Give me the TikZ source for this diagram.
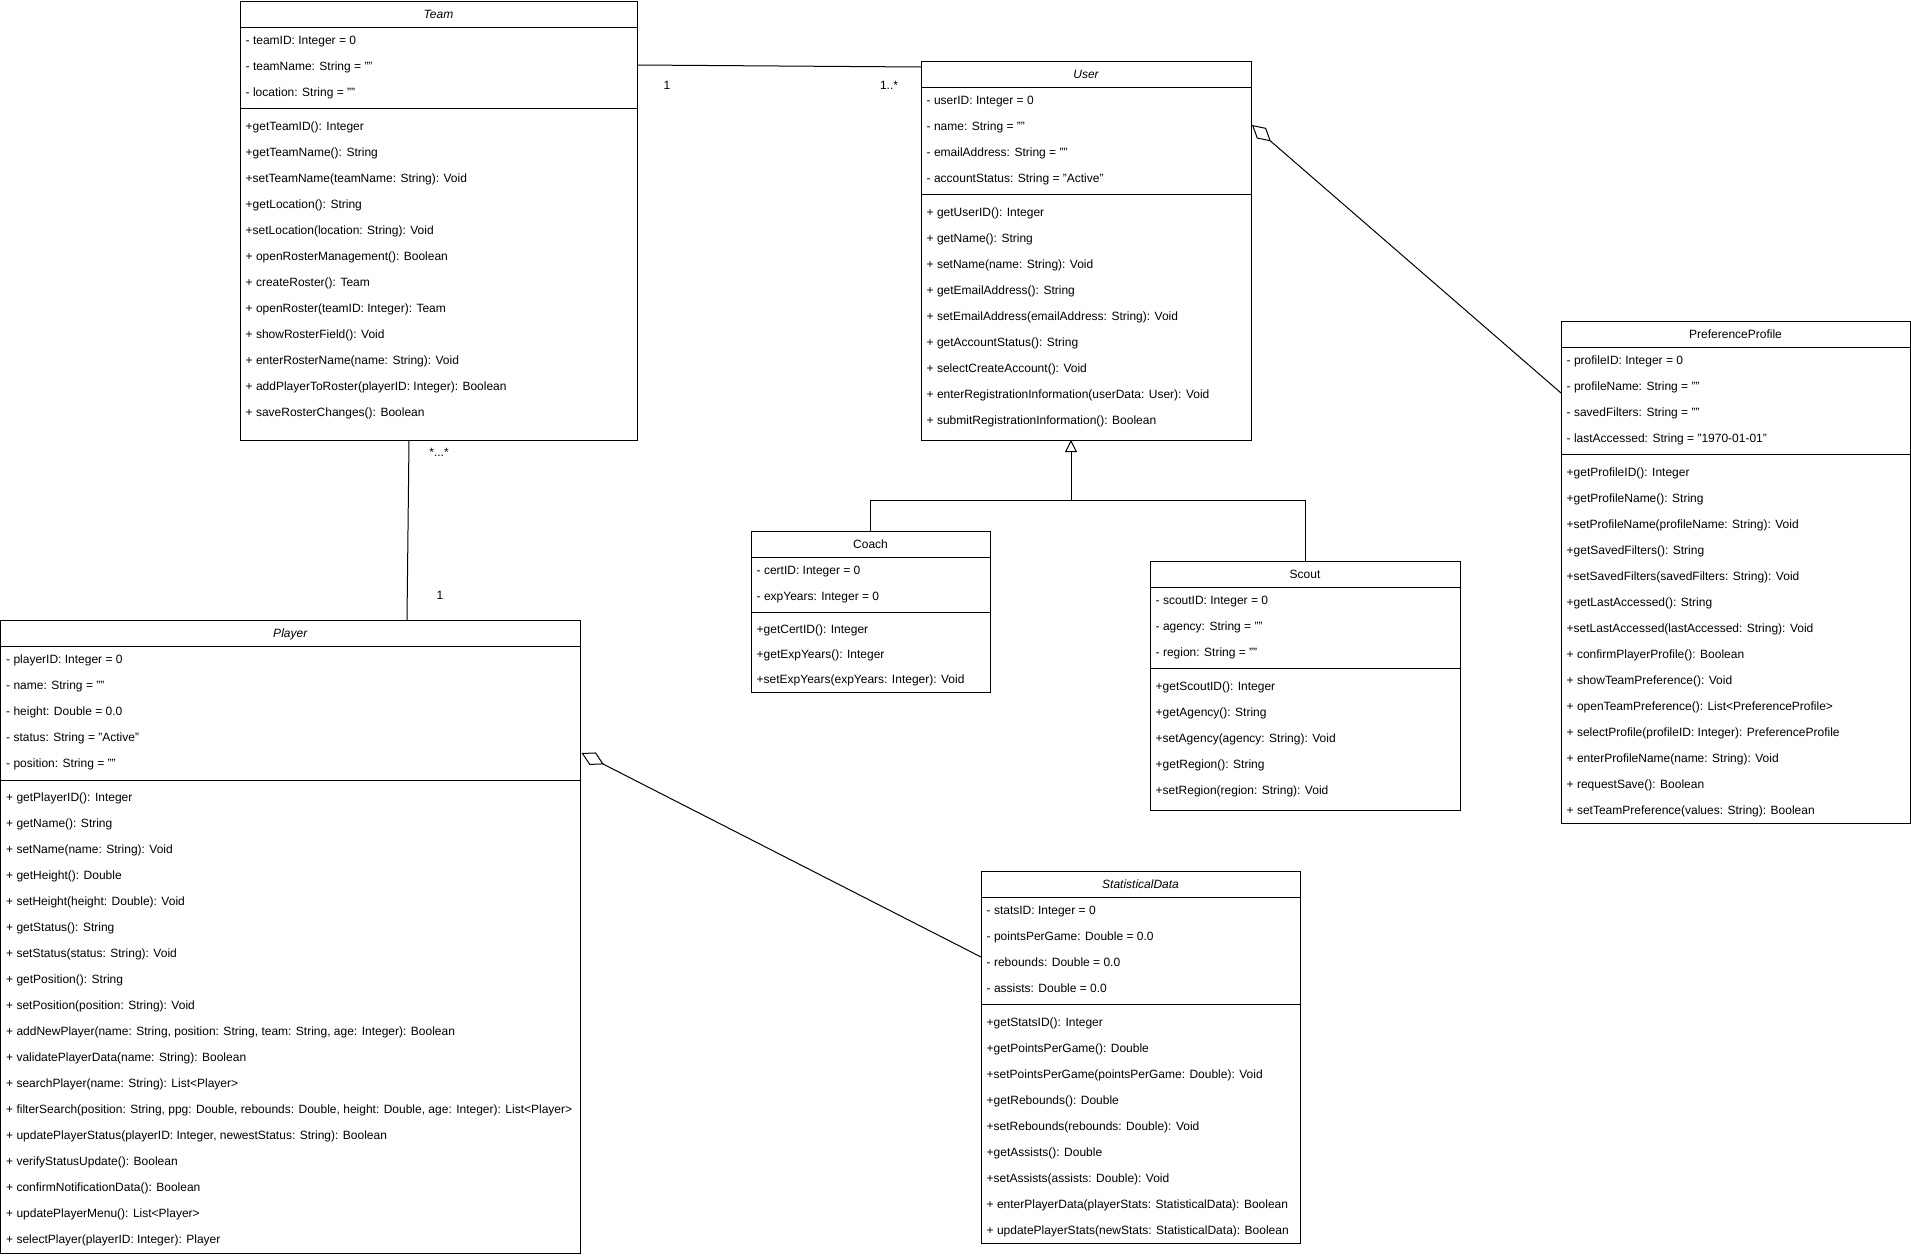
\documentclass[tikz,border=0pt]{standalone}
\usepackage{fontspec}
\setmainfont{Liberation Sans}
\usetikzlibrary{arrows.meta,calc}
\tikzset{
  umlbox/.style={draw=black, line width=1pt, fill=white, inner sep=0pt, outer sep=0pt, anchor=north west},
  rowtext/.style={anchor=west, inner sep=0pt, text height=8.6pt, text depth=0pt, font=\fontsize{12}{14}\selectfont},
  titletext/.style={inner sep=0pt, text height=8.6pt, text depth=0pt, font=\fontsize{12}{14}\selectfont},
  mult/.style={inner sep=0pt, text height=8.6pt, text depth=0pt, font=\fontsize{12}{14}\selectfont},
  conn/.style={draw=black, line width=1pt},
}
% id, left, top, right, bottom, title, separator y
\newcommand\umlclass[7]{%
  \node[umlbox, minimum width={#4-#2}, minimum height={#5-#3}] (#1) at (#2,#3) {};
  \node[titletext] (#1-title) at ({(#2+#4)/2},{#3+13}) {#6};
  \draw[conn] ([yshift=-26pt]#1.north west) -- ([yshift=-26pt]#1.north east);
  \draw[conn] (#2,#7) -- (#4,#7);
}
% id prefix, x, first y, step, list
\newcommand\umlrows[5]{%
  \foreach \t [count=\i] in {#5} {\node[rowtext] (#1\i) at (#2,{#3+#4*(\i-1)}) {\t};}
}
\begin{document}
\begin{tikzpicture}[x=1pt,y=-1pt]
\path[fill=white,use as bounding box] (0,0) rectangle (1911,1256);

% Team
\umlclass{team}{240}{1}{637}{440}{\itshape Team}{108.5}
\umlrows{team-a}{245.5}{40}{26}{- teamID: Integer = 0, - teamName: String = "", - location: String = ""}
\umlrows{team-m}{245.5}{126}{26}{+getTeamID(): Integer, +getTeamName(): String, +setTeamName(teamName: String): Void, +getLocation(): String, +setLocation(location: String): Void, + openRosterManagement(): Boolean, + createRoster(): Team, + openRoster(teamID: Integer): Team, + showRosterField(): Void, + enterRosterName(name: String): Void, + addPlayerToRoster(playerID: Integer): Boolean, + saveRosterChanges(): Boolean}

% User
\umlclass{user}{921}{61}{1251}{440}{\itshape User}{194.5}
\umlrows{user-a}{926.5}{100}{26}{- userID: Integer = 0, - name: String = "", - emailAddress: String = "", - accountStatus: String = "Active"}
\umlrows{user-m}{926.5}{212}{26}{+ getUserID(): Integer, + getName(): String, + setName(name: String): Void, + getEmailAddress(): String, + setEmailAddress(emailAddress: String): Void, + getAccountStatus(): String, + selectCreateAccount(): Void, + enterRegistrationInformation(userData: User): Void, + submitRegistrationInformation(): Boolean}

% PreferenceProfile
\umlclass{pref}{1561}{321}{1910}{823}{PreferenceProfile}{454.5}
\umlrows{pref-a}{1566.5}{360}{26}{- profileID: Integer = 0, - profileName: String = "", - savedFilters: String = "", - lastAccessed: String = "1970-01-01"}
\umlrows{pref-m}{1566.5}{472}{26}{+getProfileID(): Integer, +getProfileName(): String, +setProfileName(profileName: String): Void, +getSavedFilters(): String, +setSavedFilters(savedFilters: String): Void, +getLastAccessed(): String, +setLastAccessed(lastAccessed: String): Void, + confirmPlayerProfile(): Boolean, + showTeamPreference(): Void, + openTeamPreference(): List<PreferenceProfile>, + selectProfile(profileID: Integer): PreferenceProfile, + enterProfileName(name: String): Void, + requestSave(): Boolean, + setTeamPreference(values: String): Boolean}

% Coach
\umlclass{coach}{751}{531}{990}{692}{Coach}{612.5}
\umlrows{coach-a}{756.5}{570}{26}{- certID: Integer = 0, - expYears: Integer = 0}
\umlrows{coach-m}{756.5}{629.5}{25}{+getCertID(): Integer, +getExpYears(): Integer, +setExpYears(expYears: Integer): Void}

% Scout
\umlclass{scout}{1150}{561}{1460}{810}{Scout}{668.5}
\umlrows{scout-a}{1155.5}{600}{26}{- scoutID: Integer = 0, - agency: String = "", - region: String = ""}
\umlrows{scout-m}{1155.5}{686}{26}{+getScoutID(): Integer, +getAgency(): String, +setAgency(agency: String): Void, +getRegion(): String, +setRegion(region: String): Void}

% Player
\umlclass{player}{0.5}{620}{580}{1253}{\itshape Player}{780.5}
\umlrows{player-a}{6}{659}{26}{- playerID: Integer = 0, - name: String = "", - height: Double = 0.0, - status: String = "Active", - position: String = ""}
\umlrows{player-m}{6}{797}{26}{+ getPlayerID(): Integer, + getName(): String, + setName(name: String): Void, + getHeight(): Double, + setHeight(height: Double): Void, + getStatus(): String, + setStatus(status: String): Void, + getPosition(): String, + setPosition(position: String): Void, {+ addNewPlayer(name: String, position: String, team: String, age: Integer): Boolean}, + validatePlayerData(name: String): Boolean, + searchPlayer(name: String): List<Player>, {+ filterSearch(position: String, ppg: Double, rebounds: Double, height: Double, age: Integer): List<Player>}, {+ updatePlayerStatus(playerID: Integer, newestStatus: String): Boolean}, + verifyStatusUpdate(): Boolean, + confirmNotificationData(): Boolean, + updatePlayerMenu(): List<Player>, + selectPlayer(playerID: Integer): Player}

% StatisticalData
\umlclass{stats}{981}{871}{1300}{1243}{\itshape StatisticalData}{1004.5}
\umlrows{stats-a}{986.5}{910}{26}{- statsID: Integer = 0, - pointsPerGame: Double = 0.0, - rebounds: Double = 0.0, - assists: Double = 0.0}
\umlrows{stats-m}{986.5}{1022}{26}{+getStatsID(): Integer, +getPointsPerGame(): Double, +setPointsPerGame(pointsPerGame: Double): Void, +getRebounds(): Double, +setRebounds(rebounds: Double): Void, +getAssists(): Double, +setAssists(assists: Double): Void, + enterPlayerData(playerStats: StatisticalData): Boolean, + updatePlayerStats(newStats: StatisticalData): Boolean}

% Team -- User association
\draw[conn] ([yshift=-64pt]team.north east) -- ([yshift=-6pt]user.north west);
\node[mult] (m-team-user-1) at (667,85) {1};
\node[mult] (m-team-user-2) at (889,85) {1..*};

% Team -- Player association
\draw[conn] ([xshift=169pt]team.south west) -- ([xshift=406.5pt]player.north west);
\node[mult] (m-team-player-1) at (439,452) {*...*};
\node[mult] (m-team-player-2) at (440,595) {1};

% Aggregations
\draw[conn, {Diamond[open,length=25pt,width=14pt]}-] ([xshift=1pt,yshift=-64pt]user.north east) -- ([yshift=-72pt]pref.north west);
\draw[conn, {Diamond[open,length=25pt,width=14pt]}-] ([xshift=1.5pt,yshift=-133pt]player.north east) -- ([yshift=-86pt]stats.north west);

% Generalization
\coordinate (gj) at (1071,500);
\draw[conn, -{Triangle[open,length=12pt,width=12pt]}] (coach.north) |- (gj) -- (gj |- user.south);
\draw[conn] (scout.north) |- (gj);
\end{tikzpicture}
\end{document}
